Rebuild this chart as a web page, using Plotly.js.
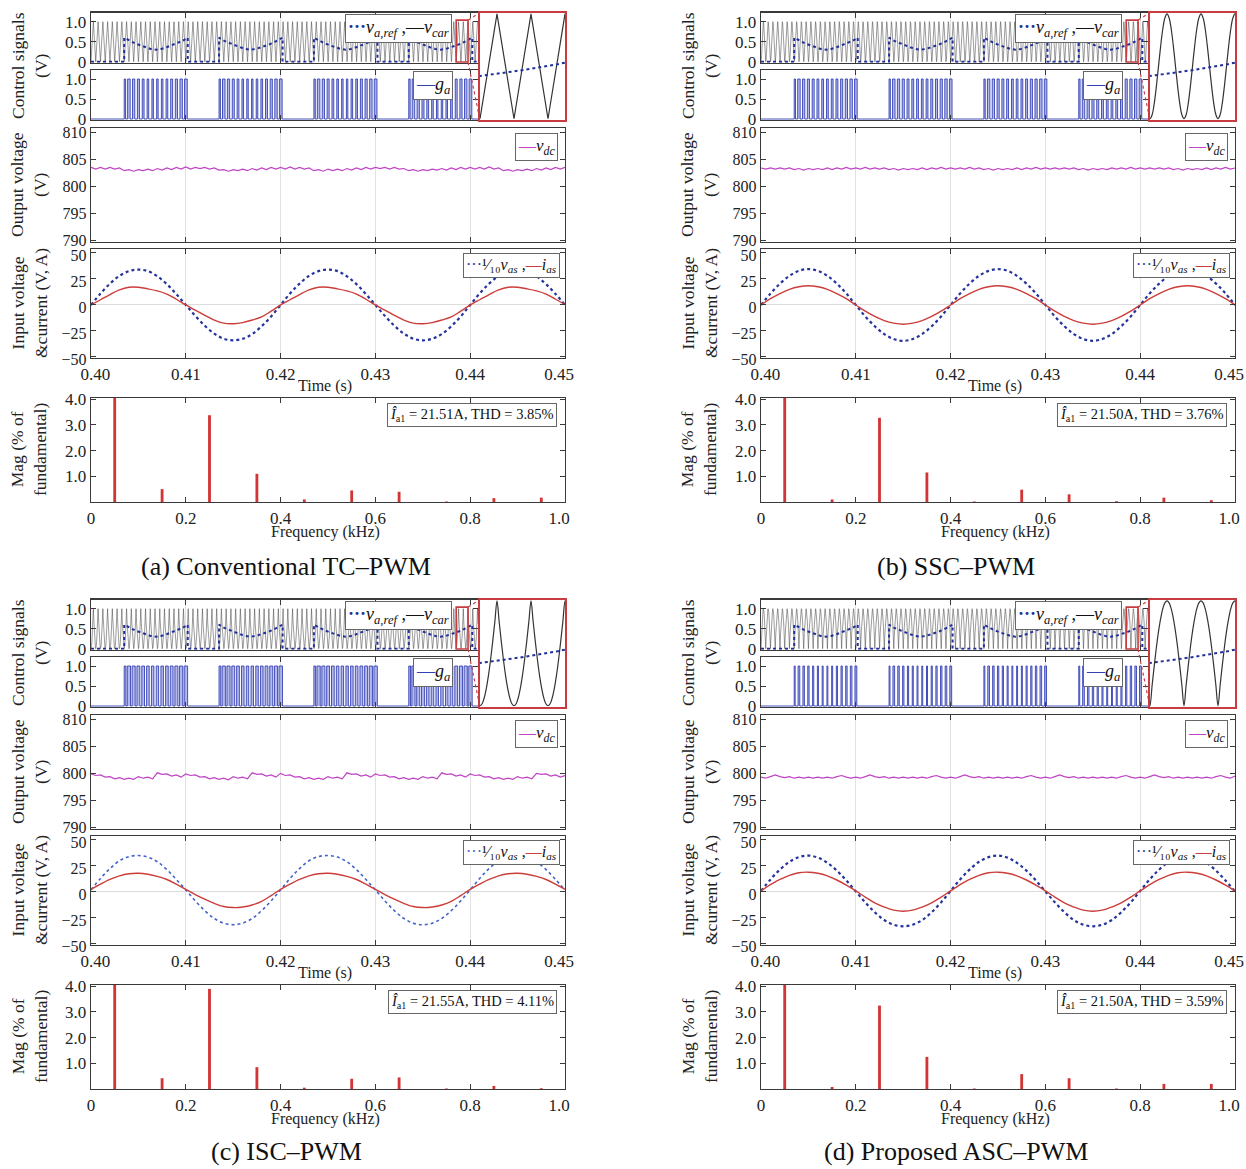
<!DOCTYPE html>
<html><head><meta charset="utf-8">
<script src="https://cdn.plot.ly/plotly-3.0.1.min.js"></script>
<style>html,body{margin:0;padding:0;background:#fff}#chart{width:1246px;height:1169px}</style>
</head><body><div id="chart"></div>
<script>
// ---------------- DATA ----------------
// carrier: one period, equally spaced phases, valley first
const carrierPeriod = 0.0005;               // s (2 kHz)
const carrierTri = [0, 1];
const carrierSine = [0,0.038,0.146,0.309,0.5,0.691,0.854,0.962,1,0.962,0.854,0.691,0.5,0.309,0.146,0.038];
const carrierISC = [0,0.019,0.076,0.169,0.293,0.444,0.617,0.805,1,0.805,0.617,0.444,0.293,0.169,0.076,0.019];
const carrierASC = [0,0.195,0.383,0.556,0.707,0.831,0.924,0.981,1,0.981,0.924,0.831,0.707,0.556,0.383,0.195];

// reference signal: active segments (scallop shape), zero elsewhere
const refSegStart = [0.4035, 0.4135, 0.4235, 0.4335];
const refSegLen = 0.0067;
const refSegShape = [0.60,0.52,0.46,0.41,0.36,0.32,0.30,0.32,0.36,0.41,0.46,0.52,0.60];
const ctrlRange = [0.40, 0.4408];
const insetRange = [0.4385, 0.43975];

// output voltage (V), every 0.5 ms from 0.400 s to 0.450 s
const vdcStep = 0.0005;
const vdcA = [803.5,803.2,803.5,803.2,803.5,803.2,803.4,802.9,803.1,802.8,803.1,802.9,803.2,802.9,803.3,803.0,803.4,803.1,803.5,803.2,
803.6,803.2,803.5,803.3,803.5,803.2,803.4,803.0,803.1,802.8,803.1,802.9,803.2,802.9,803.3,803.0,803.4,803.1,803.5,803.2,
803.5,803.2,803.6,803.2,803.5,803.2,803.4,802.9,803.1,802.8,803.2,802.9,803.2,802.9,803.3,803.0,803.4,803.1,803.5,803.2,
803.5,803.3,803.5,803.2,803.5,803.2,803.3,802.9,803.1,802.8,803.1,802.9,803.2,803.0,803.3,803.0,803.4,803.1,803.5,803.2,
803.5,803.2,803.5,803.2,803.6,803.2,803.4,802.9,803.1,802.8,803.1,802.9,803.2,802.9,803.3,803.0,803.4,803.1,803.5,803.2,803.5];
const vdcB = [803.4,803.2,803.4,803.2,803.4,803.2,803.4,803.1,803.3,803.0,803.3,803.1,803.3,803.1,803.4,803.1,803.4,803.2,803.5,803.2,
803.4,803.2,803.5,803.2,803.4,803.2,803.4,803.1,803.3,803.0,803.3,803.1,803.3,803.1,803.4,803.1,803.4,803.2,803.5,803.2,
803.4,803.2,803.4,803.2,803.5,803.2,803.4,803.1,803.3,803.0,803.3,803.1,803.3,803.1,803.4,803.1,803.4,803.2,803.5,803.2,
803.4,803.2,803.4,803.2,803.4,803.2,803.4,803.1,803.3,803.0,803.3,803.1,803.3,803.1,803.4,803.2,803.4,803.2,803.5,803.2,
803.4,803.2,803.4,803.2,803.4,803.2,803.4,803.1,803.3,803.0,803.3,803.1,803.3,803.1,803.4,803.1,803.4,803.2,803.5,803.2,803.4];
const vdcC = [799.9,799.6,799.7,799.3,799.4,799.0,799.2,798.9,799.1,798.9,799.4,799.1,799.3,799.0,800.1,799.8,799.9,799.5,799.7,799.3,
799.9,799.6,799.7,799.3,799.4,799.0,799.2,798.9,799.1,798.8,799.4,799.1,799.3,799.0,800.1,799.8,799.9,799.5,799.7,799.3,
800.0,799.6,799.7,799.3,799.4,799.0,799.2,798.9,799.1,798.9,799.4,799.1,799.3,799.0,800.1,799.8,799.9,799.5,799.7,799.3,
799.9,799.6,799.7,799.3,799.4,799.0,799.2,798.9,799.1,798.9,799.4,799.1,799.3,799.0,800.1,799.8,799.9,799.5,799.7,799.3,
799.9,799.6,799.7,799.3,799.4,799.0,799.2,798.9,799.1,798.9,799.4,799.1,799.3,799.0,800.0,799.8,799.9,799.5,799.7,799.3,799.6];
const vdcD = [799.3,799.1,799.4,799.7,799.4,799.2,799.4,799.1,799.3,799.1,799.3,799.1,799.3,799.1,799.3,799.1,799.4,799.6,799.3,799.1,
799.3,799.1,799.4,799.7,799.4,799.2,799.4,799.1,799.3,799.1,799.3,799.1,799.3,799.1,799.3,799.1,799.4,799.6,799.3,799.1,
799.3,799.1,799.4,799.7,799.4,799.2,799.4,799.1,799.3,799.1,799.3,799.1,799.3,799.1,799.3,799.1,799.4,799.6,799.3,799.1,
799.3,799.1,799.4,799.7,799.4,799.2,799.4,799.1,799.3,799.1,799.3,799.1,799.3,799.1,799.3,799.1,799.4,799.6,799.3,799.1,
799.3,799.1,799.4,799.7,799.4,799.2,799.4,799.1,799.3,799.1,799.3,799.1,799.3,799.1,799.3,799.1,799.4,799.6,799.3,799.1,799.5];

// input voltage /10 (V) and current (A), every 1 ms from 0.400 s to 0.450 s
const acStep = 0.001;
const vasA = [0,11,20.5,28,32.5,34,32.5,27.5,20,10.5,0,-10.5,-20,-27.5,-32.5,-34,-32.5,-28,-20.5,-11,
0,11,20.5,28,32.5,34,32.5,27.5,20,10.5,0,-10.5,-20,-27.5,-32.5,-34,-32.5,-28,-20.5,-11,
0,11,20.5,28,32.5,34,32.5,27.5,20,10.5,0];
const iasA = [0,5,10,14.5,17,17,15.5,13.5,10.5,5.5,0,-5,-10,-14.5,-17.5,-18,-17,-14.5,-11.5,-6,
0,5,10,14.5,17,17,15.5,13.5,10.5,5.5,0,-5,-10,-14.5,-17.5,-18,-17,-14.5,-11.5,-6,
0,5,10,14.5,17,17,15.5,13.5,10.5,5.5,0.5];
const vasB = [0,11,20.5,28,32.8,34.5,32.8,28,20.5,11,0,-11,-20.5,-28,-32.8,-34.5,-32.8,-28,-20.5,-11,
0,11,20.5,28,32.8,34.5,32.8,28,20.5,11,0,-11,-20.5,-28,-32.8,-34.5,-32.8,-28,-20.5,-11,
0,11,20.5,28,32.8,34.5,32.8,28,20.5,11,0];
const iasB = [0,6,11,15,17.5,18.5,17.5,15,11,6,0,-6,-11,-15,-17.5,-18.5,-17.5,-15,-11,-6,
0,6,11,15,17.5,18.5,17.5,15,11,6,0,-6,-11,-15,-17.5,-18.5,-17.5,-15,-11,-6,
0,6,11,15,17.5,18.5,17.5,15,11,6,0];
const vasC = [2,13,22.5,30,34,35,33.5,29,21.5,12,2,-8.5,-18,-25.5,-30,-31.5,-30,-25.5,-18,-8.5,
2,13,22.5,30,34,35,33.5,29,21.5,12,2,-8.5,-18,-25.5,-30,-31.5,-30,-25.5,-18,-8.5,
2,13,22.5,30,34,35,33.5,29,21.5,12,2];
const iasC = [2.5,7.5,12,15.5,17.5,18,17,15,12,7.5,2.5,-2.5,-7,-11,-14,-15,-14.5,-12.5,-9,-3.5,
2.5,7.5,12,15.5,17.5,18,17,15,12,7.5,2.5,-2.5,-7,-11,-14,-15,-14.5,-12.5,-9,-3.5,
2.5,7.5,12,15.5,17.5,18,17,15,12,7.5,2.5];
const vasD = [1,12,21.5,29,33.5,35,33,28,20.5,11,0.5,-10,-19.5,-27,-31.5,-33,-31.5,-27,-19.5,-10,
1,12,21.5,29,33.5,35,33,28,20.5,11,0.5,-10,-19.5,-27,-31.5,-33,-31.5,-27,-19.5,-10,
1,12,21.5,29,33.5,35,33,28,20.5,11,0.5];
const iasD = [1,7,12,16,18.5,19,18,15.5,11.5,6.5,1,-5,-10.5,-14.5,-17.5,-18.5,-17.5,-14.5,-10.5,-5,
1,7,12,16,18.5,19,18,15.5,11.5,6.5,1,-5,-10.5,-14.5,-17.5,-18.5,-17.5,-14.5,-10.5,-5,
1,7,12,16,18.5,19,18,15.5,11.5,6.5,1];

// current spectrum (% of fundamental)
const harmonicsKHz = [0.05,0.15,0.25,0.35,0.45,0.55,0.65,0.75,0.85,0.95];
const fftA = [100,0.50,3.38,1.10,0.10,0.45,0.40,0.02,0.15,0.17];
const fftB = [100,0.10,3.28,1.15,0.02,0.48,0.30,0.03,0.17,0.07];
const fftC = [100,0.42,3.90,0.85,0.05,0.40,0.45,0.02,0.12,0.03];
const fftD = [100,0.08,3.25,1.25,0.02,0.58,0.42,0.02,0.20,0.20];

const captions = ['(a) Conventional TC–PWM','(b) SSC–PWM','(c) ISC–PWM','(d) Proposed ASC–PWM'];
const fundamentals = ['21.51A','21.50A','21.55A','21.50A'];
const thdValues = ['3.85%','3.76%','4.11%','3.59%'];

// (edge labels sit slightly inward in the reference)
const timeTicks = [0.40,0.41,0.42,0.43,0.44,0.45];
const timeTickText = ['\u20070.40','0.41','0.42','0.43','0.44','0.45\u2007\u2009'];
const freqTicks = [0,0.2,0.4,0.6,0.8,1.0];
const freqTickText = ['0','0.2','0.4','0.6','0.8','1.0\u2007\u2009'];

// ---------------- BUILD ----------------
const W = 1246, H = 1169;
const FONT = '"Liberation Serif", "Times New Roman", "DejaVu Serif", serif';
const fx = p => p / W;
const fy = p => 1 - p / H;

const panels = [
  {ox:0,   oy:0,   carrier:carrierTri,  vdc:vdcA, vas:vasA, ias:iasA, fft:fftA, vCol:'#26339c', vW:2.2},
  {ox:670, oy:0,   carrier:carrierSine, vdc:vdcB, vas:vasB, ias:iasB, fft:fftB, vCol:'#26339c', vW:2.2},
  {ox:0,   oy:587, carrier:carrierISC,  vdc:vdcC, vas:vasC, ias:iasC, fft:fftC, vCol:'#4263c9', vW:1.6},
  {ox:670, oy:587, carrier:carrierASC,  vdc:vdcD, vas:vasD, ias:iasD, fft:fftD, vCol:'#26339c', vW:2.2}
];

const traces = [], shapes = [], annotations = [];
const layout = {width:W, height:H, margin:{l:0,r:0,t:0,b:0}, showlegend:false,
  paper_bgcolor:'#fff', plot_bgcolor:'#fff', font:{family:FONT, color:'#222'}, shapes, annotations};

const baseAx = {showline:true, mirror:'ticks', linecolor:'#3a3a3a', linewidth:1.3, ticks:'inside', ticklen:5,
  tickcolor:'#3a3a3a', showgrid:false, zeroline:false, fixedrange:true, ticklabeloverflow:'allow',
  tickfont:{family:FONT, size:17, color:'#222'}};
let axN = 0;
function addAxes(xpx, ypx, xopt, yopt) {
  axN++; const s = axN === 1 ? '' : String(axN);
  layout['xaxis'+s] = Object.assign({}, baseAx, {domain:[fx(xpx[0]), fx(xpx[1])], anchor:'y'+s}, xopt);
  layout['yaxis'+s] = Object.assign({}, baseAx, {domain:[fy(ypx[1]), fy(ypx[0])], anchor:'x'+s}, yopt);
  return {xaxis:'x'+s, yaxis:'y'+s, xn:'xaxis'+s, yn:'yaxis'+s};
}
function tile(pattern, t0, t1, T) {
  const n = pattern.length, xs = [], ys = [];
  const N = Math.round((t1 - t0) / T * n);
  for (let k = 0; k <= N; k++) { xs.push(t0 + k * T / n); ys.push(pattern[k % n]); }
  return {xs, ys};
}
function carrierAt(pattern, t, t0, T) {
  const n = pattern.length;
  let ph = ((t - t0) / T) % 1; if (ph < 0) ph += 1;
  const pos = ph * n, k = Math.floor(pos), f = pos - k;
  return pattern[k % n] * (1 - f) + pattern[(k + 1) % n] * f;
}
function refTrace() {
  const xs = [ctrlRange[0]], ys = [0];
  const m = refSegShape.length - 1;
  refSegStart.forEach(s => {
    xs.push(s); ys.push(0);
    refSegShape.forEach((v, k) => { xs.push(s + refSegLen * k / m); ys.push(v); });
    xs.push(s + refSegLen); ys.push(0);
  });
  xs.push(ctrlRange[1]); ys.push(0);
  return {xs, ys};
}
function refAt(t) {
  const m = refSegShape.length - 1;
  for (const s of refSegStart) {
    if (t >= s && t <= s + refSegLen) {
      const pos = (t - s) / refSegLen * m, k = Math.min(Math.floor(pos), m - 1), f = pos - k;
      return refSegShape[k] * (1 - f) + refSegShape[k + 1] * f;
    }
  }
  return 0;
}
const seq = (t0, step, n) => Array.from({length:n}, (_, k) => t0 + k * step);
const ref = refTrace();
const tGrid = [0.41, 0.42, 0.43, 0.44];
const yTickFont = {family:FONT, size:16, color:'#222'};

panels.forEach((p, idx) => {
  const L = 91 + p.ox, R = 565 + p.ox, Rc = 478 + p.ox, oy = p.oy;
  // --- control signals (carrier + reference)
  const a1 = addAxes([L, Rc], [12.7 + oy, 62.7 + oy],
    {range:ctrlRange, tickvals:tGrid, showticklabels:false, showgrid:true, gridcolor:'#e2e2e2'},
    {range:[-0.025,1.225], tickvals:[0,0.5,1], ticktext:['0','0.5','1.0']});
  const car = tile(p.carrier, ctrlRange[0], ctrlRange[1], carrierPeriod);
  traces.push({type:'scatter', mode:'lines', x:car.xs, y:car.ys, xaxis:a1.xaxis, yaxis:a1.yaxis,
    line:{color:'#4a4a4a', width:0.55}, hoverinfo:'skip'});
  traces.push({type:'scatter', mode:'lines', x:ref.xs, y:ref.ys, xaxis:a1.xaxis, yaxis:a1.yaxis,
    line:{color:'#22309a', width:2, dash:'dot'}, hoverinfo:'skip'});
  // --- gate signal
  const a2 = addAxes([L, Rc], [70 + oy, 120 + oy],
    {range:ctrlRange, tickvals:tGrid, showticklabels:false, showgrid:true, gridcolor:'#e2e2e2'},
    {range:[-0.025,1.225], tickvals:[0,0.5,1], ticktext:['0','0.5','1.0']});
  const gx = [], gy = []; let prev = -1;
  const dt = carrierPeriod / 256;
  for (let t = ctrlRange[0]; t <= ctrlRange[1] + 1e-12; t += dt) {
    const g = refAt(t) > carrierAt(p.carrier, t, ctrlRange[0], carrierPeriod) ? 1 : 0;
    if (g !== prev) { gx.push(t); gy.push(g); prev = g; }
  }
  gx.push(ctrlRange[1]); gy.push(prev);
  traces.push({type:'scatter', mode:'lines', x:gx, y:gy, xaxis:a2.xaxis, yaxis:a2.yaxis,
    line:{color:'#3441b3', width:0.9, shape:'hv'}, fill:'tozeroy', fillcolor:'rgba(105,115,215,0.5)', hoverinfo:'skip'});
  // --- zoom inset
  const a3 = addAxes([480 + p.ox, R], [12.7 + oy, 120 + oy],
    {range:insetRange, ticks:'', showticklabels:false, linecolor:'#c63c40', linewidth:2.2, mirror:true},
    {range:[-0.012,1.012], ticks:'', showticklabels:false, linecolor:'#c63c40', linewidth:2.2, mirror:true});
  const ci = tile(p.carrier, ctrlRange[0], insetRange[1] + carrierPeriod, carrierPeriod);
  const cix = [], ciy = [];
  ci.xs.forEach((x, k) => { if (x >= insetRange[0] - carrierPeriod && x <= insetRange[1] + carrierPeriod) { cix.push(x); ciy.push(ci.ys[k]); } });
  traces.push({type:'scatter', mode:'lines', x:cix, y:ciy, xaxis:a3.xaxis, yaxis:a3.yaxis,
    line:{color:'#333', width:1.2, shape: p.carrier.length > 2 ? 'spline' : 'linear'}, hoverinfo:'skip'});
  traces.push({type:'scatter', mode:'lines', x:ref.xs, y:ref.ys, xaxis:a3.xaxis, yaxis:a3.yaxis,
    line:{color:'#22309a', width:2, dash:'dot'}, hoverinfo:'skip'});
  // zoom rectangle + connectors
  shapes.push({type:'rect', xref:a1.xaxis, yref:a1.yaxis, x0:insetRange[0], x1:insetRange[1], y0:-0.01, y1:1.04,
    line:{color:'#c63c40', width:1.6}});
  const xd = layout[a1.xn].domain, yd = layout[a1.yn].domain, yr = layout[a1.yn].range;
  const px = xd[0] + (insetRange[1] - ctrlRange[0]) / (ctrlRange[1] - ctrlRange[0]) * (xd[1] - xd[0]);
  const pyT = yd[0] + (1.04 - yr[0]) / (yr[1] - yr[0]) * (yd[1] - yd[0]);
  const pyB = yd[0] + (-0.01 - yr[0]) / (yr[1] - yr[0]) * (yd[1] - yd[0]);
  const ixd = layout[a3.xn].domain, iyd = layout[a3.yn].domain;
  shapes.push({type:'line', xref:'paper', yref:'paper', x0:px, y0:pyT, x1:ixd[0], y1:iyd[1], line:{color:'#c63c40', width:1.2, dash:'dot'}});
  shapes.push({type:'line', xref:'paper', yref:'paper', x0:px, y0:pyB, x1:ixd[0], y1:iyd[0], line:{color:'#c63c40', width:1.2, dash:'dot'}});

  // --- output voltage
  const a4 = addAxes([L, R], [128 + oy, 242 + oy],
    {range:[0.40,0.45], tickvals:tGrid, showticklabels:false, showgrid:true, gridcolor:'#e2e2e2'},
    {range:[789.7,810.8], tickvals:[790,795,800,805,810], tickfont:yTickFont});
  traces.push({type:'scatter', mode:'lines', x:seq(0.40, vdcStep, p.vdc.length), y:p.vdc, xaxis:a4.xaxis, yaxis:a4.yaxis,
    line:{color:'#bf43c4', width:1.2}, hoverinfo:'skip'});

  // --- input voltage & current
  const a5 = addAxes([L, R], [249 + oy, 358 + oy],
    {range:[0.40,0.45], tickvals:timeTicks, ticktext:timeTickText, showgrid:true, gridcolor:'#e2e2e2'},
    {range:[-51,53.8], tickvals:[-50,-25,0,25,50], zeroline:true, zerolinecolor:'#dcdcdc', zerolinewidth:1,
     tickfont:yTickFont, ticklabelshift:2});
  const tAc = seq(0.40, acStep, p.vas.length);
  traces.push({type:'scatter', mode:'lines', x:tAc, y:p.vas, xaxis:a5.xaxis, yaxis:a5.yaxis,
    line:{color:p.vCol, width:p.vW, dash:'dot', shape:'spline'}, hoverinfo:'skip'});
  traces.push({type:'scatter', mode:'lines', x:tAc, y:p.ias, xaxis:a5.xaxis, yaxis:a5.yaxis,
    line:{color:'#cc3d3a', width:1.4, shape:'spline'}, hoverinfo:'skip'});

  // --- spectrum
  const a6 = addAxes([L, R], [398 + oy, 502 + oy],
    {range:[0,1.0], tickvals:freqTicks, ticktext:freqTickText},
    {range:[0,4.05], tickvals:[1,2,3,4], ticktext:['1.0','2.0','3.0','4.0']});
  traces.push({type:'bar', x:harmonicsKHz, y:p.fft, width:0.006, xaxis:a6.xaxis, yaxis:a6.yaxis,
    marker:{color:'#d23535', line:{width:0}}, hoverinfo:'skip'});

  // --- texts
  const yl = (txt, ypx) => annotations.push({xref:'paper', yref:'paper', x:fx(29 + p.ox), y:fy(ypx + oy), text:txt,
    textangle:-90, showarrow:false, xanchor:'center', yanchor:'middle', font:{family:FONT, size:17.5, color:'#222'}});
  yl('Control signals<br>(V)', 66);
  yl('Output voltage<br>(V)', 185);
  yl('Input voltage<br>&amp;current (V, A)', 303);
  yl('Mag (% of<br>fundamental)', 450);
  const cx = fx((L + R) / 2 - 3);
  annotations.push({xref:'paper', yref:'paper', x:cx, y:fy(386 + oy), text:'Time (s)', showarrow:false,
    xanchor:'center', yanchor:'middle', font:{family:FONT, size:16, color:'#222'}});
  annotations.push({xref:'paper', yref:'paper', x:cx, y:fy(532 + oy), text:'Frequency (kHz)', showarrow:false,
    xanchor:'center', yanchor:'middle', font:{family:FONT, size:16, color:'#222'}});
  annotations.push({xref:'paper', yref:'paper', x:fx(286 + p.ox), y:fy((oy ? 1151 : 567)), text:captions[idx], showarrow:false,
    xanchor:'center', yanchor:'middle', font:{family:FONT, size:26, color:'#111'}});
  // legends
  const box = (txt, xr, yt, size) => annotations.push({xref:'paper', yref:'paper', x:fx(xr), y:fy(yt), text:txt,
    showarrow:false, xanchor:'right', yanchor:'top', bgcolor:'#fff', bordercolor:'#666', borderwidth:1, borderpad:2,
    font:{family:FONT, size:size, color:'#111'}});
  box('<span style="color:#22309a"><b>···</b></span><i>v</i><sub><i>a,ref</i></sub> ,—<i>v</i><sub><i>car</i></sub>', 452 + p.ox, 14 + oy, 18);
  box('<span style="color:#3441b3">—</span><i>g</i><sub><i>a</i></sub>', 453 + p.ox, 71 + oy, 18);
  box('<span style="color:#bf43c4">—</span><i>v</i><sub><i>dc</i></sub>', 558 + p.ox, 133 + oy, 17);
  box('<span style="color:' + p.vCol + '">···</span>¹⁄₁₀<i>v</i><sub><i>as</i></sub> ,<span style="color:#cc3d3a">—</span><i>i</i><sub><i>as</i></sub>', 560 + p.ox, 253 + oy, 16);
  box('<i>Î</i><sub>a1</sub> = ' + fundamentals[idx] + ', THD = ' + thdValues[idx], 557 + p.ox, 403 + oy, 14.5);
});

Plotly.newPlot('chart', traces, layout, {staticPlot:true, displayModeBar:false});
</script></body></html>
